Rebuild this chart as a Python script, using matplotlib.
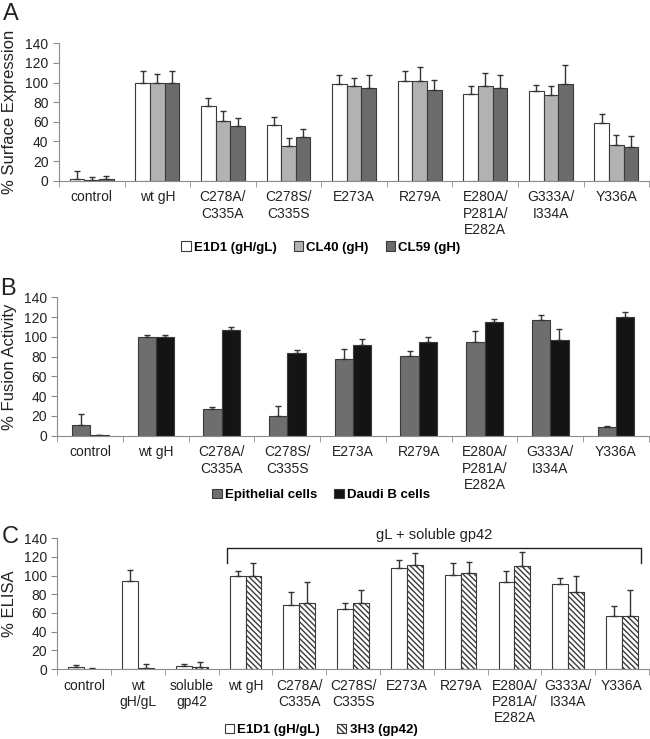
import matplotlib
matplotlib.use('Agg')
import matplotlib.pyplot as plt
import numpy as np

plt.rcParams['font.family'] = ['Liberation Sans', 'DejaVu Sans']
plt.rcParams['hatch.linewidth'] = 1.0

# panel A - surface expression
cats_a = ['control', 'wt gH', 'C278A/\nC335A', 'C278S/\nC335S', 'E273A', 'R279A',
          'E280A/\nP281A/\nE282A', 'G333A/\nI334A', 'Y336A']
e1d1_a = [2, 100, 76, 57, 99, 102, 88, 91, 59]
e1d1_a_err = [8, 12, 8, 8, 9, 10, 8, 7, 9]
cl40_a = [1, 100, 61, 35, 97, 102, 96, 87, 36]
cl40_a_err = [3, 9, 10, 8, 8, 14, 14, 9, 11]
cl59_a = [2, 100, 56, 45, 94, 92, 94, 99, 34]
cl59_a_err = [3, 12, 8, 8, 14, 11, 14, 19, 12]

# panel B - fusion activity
cats_b = cats_a
epi_b = [11, 100, 27, 20, 78, 81, 95, 117, 9]
epi_b_err = [11, 2, 2, 10, 10, 5, 11, 5, 1]
daudi_b = [0.5, 100, 107, 84, 92, 95, 115, 97, 120]
daudi_b_err = [0.5, 2, 3, 3, 6, 5, 3, 11, 5]

# panel C - ELISA
cats_c = ['control', 'wt\ngH/gL', 'soluble\ngp42', 'wt gH', 'C278A/\nC335A', 'C278S/\nC335S',
          'E273A', 'R279A', 'E280A/\nP281A/\nE282A', 'G333A/\nI334A', 'Y336A']
e1d1_c = [2, 94, 3, 100, 69, 64, 108, 101, 93, 91, 57]
e1d1_c_err = [2, 12, 2, 5, 13, 7, 9, 12, 12, 7, 10]
h3_c = [0.5, 1, 2, 100, 71, 71, 111, 103, 110, 83, 57]
h3_c_err = [0.3, 4, 5, 14, 22, 14, 13, 12, 15, 17, 28]

EDGE = '#3a3a3a'
SPINE = '#8c8c8c'
TXT = '#222222'

fig = plt.figure(figsize=(6.5, 7.39), dpi=100)
ax_a = fig.add_axes([0.0908, 0.7555, 0.908, 0.1859])
ax_b = fig.add_axes([0.0882, 0.4104, 0.91, 0.1873])
ax_c = fig.add_axes([0.0882, 0.0947, 0.91, 0.1769])


def style_axis(ax, cats, ylabel, labx):
    n = len(cats)
    ax.set_xlim(-0.5, n - 0.5)
    ax.set_ylim(0, 140)
    ax.set_yticks(range(0, 141, 20))
    ax.set_xticks(range(n))
    ax.set_xticklabels(cats, fontsize=10, color=TXT, linespacing=1.2)
    ax.set_xticks(np.arange(-0.5, n, 1), minor=True)
    ax.tick_params(axis='x', which='major', length=0, pad=7)
    ax.tick_params(axis='x', which='minor', length=4, color=SPINE, direction='out')
    ax.tick_params(axis='y', length=4, color=SPINE, labelsize=10, labelcolor=TXT)
    for s in ['top', 'right']:
        ax.spines[s].set_visible(False)
    for s in ['left', 'bottom']:
        ax.spines[s].set_color(SPINE)
    ax.set_ylabel(ylabel, fontsize=12, color=TXT)
    ax.yaxis.set_label_coords(labx, 0.5)


ekw = dict(ecolor='#333333', elinewidth=1, capsize=2.5, capthick=1)

# A
x = np.arange(len(cats_a))
w = 0.223
ax_a.bar(x - w, e1d1_a, w, color='white', edgecolor=EDGE, lw=0.8, label='E1D1 (gH/gL)', zorder=2)
ax_a.bar(x, cl40_a, w, color='#b2b2b2', edgecolor=EDGE, lw=0.8, label='CL40 (gH)', zorder=2)
ax_a.bar(x + w, cl59_a, w, color='#6b6b6b', edgecolor=EDGE, lw=0.8, label='CL59 (gH)', zorder=2)
ax_a.errorbar(x - w, e1d1_a, yerr=[np.zeros(len(x)), e1d1_a_err], fmt='none', **ekw)
ax_a.errorbar(x, cl40_a, yerr=[np.zeros(len(x)), cl40_a_err], fmt='none', **ekw)
ax_a.errorbar(x + w, cl59_a, yerr=[np.zeros(len(x)), cl59_a_err], fmt='none', **ekw)
style_axis(ax_a, cats_a, '% Surface Expression', -0.071)

# B
x = np.arange(len(cats_b))
w = 0.28
ax_b.bar(x - w / 2, epi_b, w, color='#6e6e6e', edgecolor=EDGE, lw=0.8, label='Epithelial cells', zorder=2)
ax_b.bar(x + w / 2, daudi_b, w, color='#141414', edgecolor=EDGE, lw=0.8, label='Daudi B cells', zorder=2)
ax_b.errorbar(x - w / 2, epi_b, yerr=[np.zeros(len(x)), epi_b_err], fmt='none', **ekw)
ax_b.errorbar(x + w / 2, daudi_b, yerr=[np.zeros(len(x)), daudi_b_err], fmt='none', **ekw)
style_axis(ax_b, cats_b, '% Fusion Activity', -0.0685)

# C
x = np.arange(len(cats_c))
w = 0.295
ax_c.bar(x - w / 2, e1d1_c, w, color='white', edgecolor=EDGE, lw=0.8, label='E1D1 (gH/gL)', zorder=2)
ax_c.bar(x + w / 2, h3_c, w, color='white', edgecolor=EDGE, lw=0.8, hatch='\\\\\\\\\\\\',
         label='3H3 (gp42)', zorder=2)
ax_c.errorbar(x - w / 2, e1d1_c, yerr=[np.zeros(len(x)), e1d1_c_err], fmt='none', **ekw)
ax_c.errorbar(x + w / 2, h3_c, yerr=[np.zeros(len(x)), h3_c_err], fmt='none', **ekw)
style_axis(ax_c, cats_c, '% ELISA', -0.0685)

# bracket over the gL + soluble gp42 group
ax_c.plot([2.65, 2.65, 10.35, 10.35], [114, 130, 130, 114], color='#222222', lw=1, clip_on=False)
ax_c.text(6.5, 144, 'gL + soluble gp42', ha='center', va='center', fontsize=10.5, color=TXT)

# legends
for ax, ncol, y in [(ax_a, 3, 0.665), (ax_b, 2, 0.330), (ax_c, 2, 0.012)]:
    fig.legend(*ax.get_legend_handles_labels(), loc='center', bbox_to_anchor=(0.494, y),
               ncol=ncol, frameon=False, handlelength=0.7, handleheight=0.7,
               handletextpad=0.25, columnspacing=1.3, prop={'weight': 'bold', 'size': 9.5},
               borderpad=0)

fig.text(0.004, 0.996, 'A', fontsize=17, va='top', ha='left', color=TXT)
fig.text(0.0, 0.624, 'B', fontsize=17, va='top', ha='left', color=TXT)
fig.text(0.003, 0.288, 'C', fontsize=17, va='top', ha='left', color=TXT)

fig.savefig('out.png', dpi=100)
